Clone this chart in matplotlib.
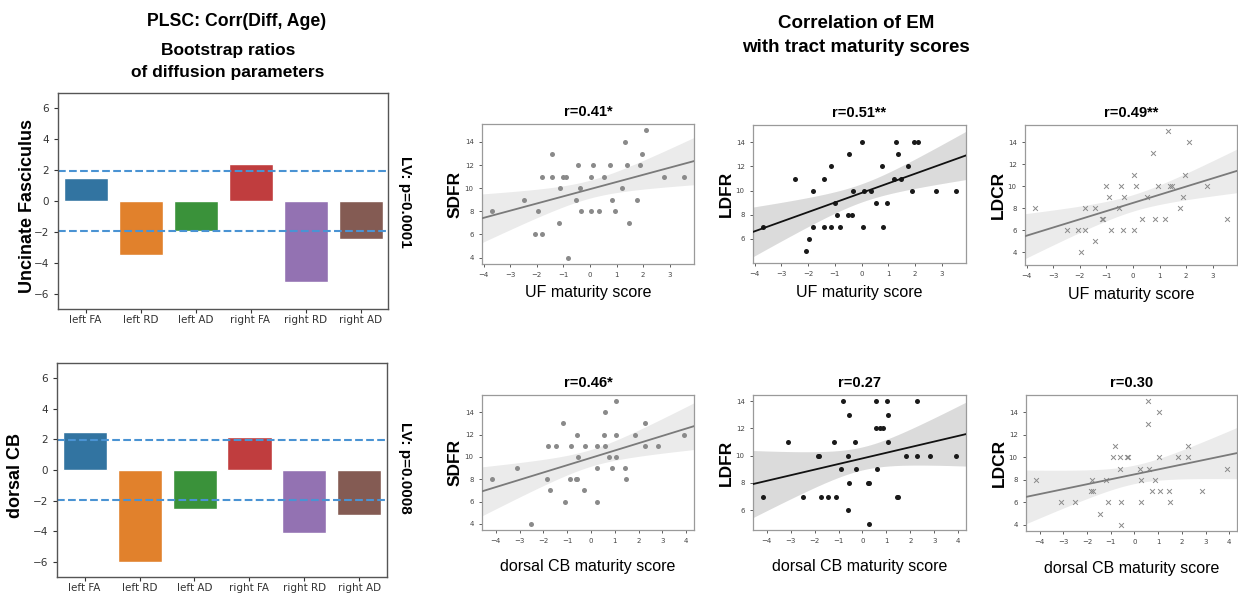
import numpy as np
import matplotlib
matplotlib.use('Agg')
import matplotlib.pyplot as plt
from matplotlib.ticker import MultipleLocator

# ---------------- data ----------------
bar_labels = ['left FA', 'left RD', 'left AD', 'right FA', 'right RD', 'right AD']
uf_bsr = [1.5, -3.47, -1.97, 2.4, -5.24, -2.45]
cb_bsr = [2.46, -6.02, -2.54, 2.17, -4.15, -2.93]

x_uf = [-3.7, -2.5, -2.07, -1.96, -1.81, -1.81, -1.42, -1.42, -1.13, -1.15, -1.0, -0.9,
        -0.81, -0.51, -0.46, -0.36, -0.33, 0.03, 0.05, 0.1, 0.35, 0.53, 0.76, 0.82, 0.95,
        1.22, 1.3, 1.38, 1.48, 1.75, 1.89, 1.97, 2.1, 2.8, 3.55]
sdfr_uf = [8, 9, 6, 8, 6, 11, 13, 11, 10, 7, 11, 11, 4, 9, 12, 10, 8, 11, 8, 12, 8, 11,
           12, 9, 8, 10, 14, 12, 7, 9, 12, 13, 15, 11, 11]
ldfr_uf = [7, 11, 5, 6, 10, 7, 11, 7, 12, 7, 9, 8, 7, 8, 13, 8, 10, 14, 7, 10, 10, 9,
           12, 7, 9, 11, 14, 13, 11, 12, 10, 14, 14, 10, 10]
ldcr_uf = [8, 6, 6, 4, 8, 6, 8, 5, 7, 7, 10, 9, 6, 8, 10, 6, 9, 11, 6, 10, 7, 9,
           13, 7, 10, 7, 15, 10, 10, 8, 9, 11, 14, 10, 7]

x_cb = [-4.17, -3.1, -2.5, -1.85, -1.8, -1.74, -1.45, -1.18, -1.1, -0.89, -0.82, -0.62,
        -0.6, -0.57, -0.56, -0.3, -0.27, 0.24, 0.26, 0.27, 0.56, 0.58, 0.6, 0.74, 0.87,
        1.03, 1.05, 1.07, 1.44, 1.49, 1.83, 2.26, 2.27, 2.83, 3.92]
sdfr_cb = [8, 9, 4, 8, 11, 7, 11, 13, 6, 8, 11, 8, 8, 12, 10, 7, 11, 11, 9, 6, 12, 14,
           11, 10, 9, 12, 15, 10, 9, 8, 12, 13, 11, 11, 12]
ldfr_cb = [7, 11, 7, 10, 10, 7, 7, 11, 7, 9, 14, 10, 6, 13, 8, 11, 9, 8, 8, 5, 12, 14,
           9, 12, 12, 14, 13, 11, 7, 7, 10, 14, 10, 10, 10]
ldcr_cb = [8, 6, 6, 7, 8, 7, 5, 8, 6, 10, 11, 10, 9, 6, 4, 10, 10, 9, 8, 6, 15, 13,
           9, 7, 8, 14, 10, 7, 7, 6, 10, 11, 10, 7, 9]

r_titles = [['r=0.41*', 'r=0.51**', 'r=0.49**'], ['r=0.46*', 'r=0.27', 'r=0.30']]

# ---------------- figure ----------------
W, H = 1238, 595
fig = plt.figure(figsize=(W / 100, H / 100), dpi=100)
HF = ['Liberation Sans', 'DejaVu Sans']


def px_axes(l, t, r, b):
    return fig.add_axes([l / W, 1 - b / H, (r - l) / W, (b - t) / H])


def ftext(x, y, s, **kw):
    fig.text(x / W, 1 - y / H, s, ha='center', va='center', family=HF, **kw)


# titles
ftext(237, 22, 'PLSC: Corr(Diff, Age)', fontsize=12.7, fontweight='bold')
ftext(228, 51, 'Bootstrap ratios', fontsize=12.5, fontweight='bold')
ftext(228, 73, 'of diffusion parameters', fontsize=12.5, fontweight='bold')
ftext(856, 23, 'Correlation of EM', fontsize=13.5, fontweight='bold')
ftext(856, 47, 'with tract maturity scores', fontsize=13.5, fontweight='bold')

# ---------------- bar charts ----------------
bar_colors = ['#3274a1', '#e1812c', '#3a923a', '#c03d3e', '#9372b2', '#845b53']
dash_c = '#4a93d3'
bar_specs = [
    ((58, 93, 388, 309), uf_bsr, 'Uncinate Fasciculus', 27, 206, 'LV: p=0.0001', 202),
    ((57, 363, 387, 577), cb_bsr, 'dorsal CB', 16, 476, 'LV: p=0.0008', 468),
]
for box, vals, ylab, ylx, yly, lv, lvy in bar_specs:
    ax = px_axes(*box)
    ax.bar(range(len(vals)), vals, width=0.8, color=bar_colors, edgecolor='white', linewidth=1)
    ax.axhline(1.96, ls='--', color=dash_c, lw=1.5)
    ax.axhline(-1.96, ls='--', color=dash_c, lw=1.5)
    ax.set_xlim(-0.5, 5.5)
    ax.set_ylim(-7, 7)
    ax.set_yticks(range(-6, 7, 2))
    ax.set_xticks(range(len(bar_labels)))
    ax.set_xticklabels(bar_labels)
    ax.tick_params(labelsize=7.5, colors='#333', length=3, width=0.8)
    ax.tick_params(axis='x', pad=1.5)
    for sp in ax.spines.values():
        sp.set_color('#555')
        sp.set_linewidth(1)
    ftext(ylx, yly, ylab, rotation=90, fontsize=13, fontweight='bold')
    ftext(405, lvy, lv, rotation=270, fontsize=11, fontweight='bold')

# ---------------- scatter / regression ----------------
T_CRIT = 2.035  # two-sided 95% t quantile, df = 33


def regplot(ax, x, y, color, marker, lcolor):
    x = np.asarray(x, float)
    y = np.asarray(y, float)
    if marker == 'x':
        ax.scatter(x, y, s=12, c=color, marker='x', linewidths=0.7, zorder=2)
    else:
        ax.scatter(x, y, s=13, c=color, marker='o', linewidths=0, zorder=2)
    ax.margins(0.05)
    ax.autoscale_view()
    xl = ax.get_xlim()
    n = len(x)
    b1, b0 = np.polyfit(x, y, 1)
    resid = y - (b0 + b1 * x)
    s = np.sqrt(np.sum(resid ** 2) / (n - 2))
    sxx = np.sum((x - x.mean()) ** 2)
    xs = np.linspace(xl[0], xl[1], 200)
    yh = b0 + b1 * xs
    se = s * np.sqrt(1 / n + (xs - x.mean()) ** 2 / sxx)
    ax.fill_between(xs, yh - T_CRIT * se, yh + T_CRIT * se, color=lcolor, alpha=0.15, lw=0, zorder=1)
    ax.plot(xs, yh, color=lcolor, lw=1.3, zorder=3)
    ax.autoscale_view()
    ax.set_xlim(xl)


rows = [
    (x_uf, [sdfr_uf, ldfr_uf, ldcr_uf], 'UF maturity score',
     [(482, 124, 694, 264), (753, 125, 966, 263), (1025, 125, 1237, 265)], 29),
    (x_cb, [sdfr_cb, ldfr_cb, ldcr_cb], 'dorsal CB maturity score',
     [(482, 395, 694, 530), (753, 395, 966, 530), (1026, 395, 1237, 531)], 37),
]
ynames = ['SDFR', 'LDFR', 'LDCR']
styles = [('#8a8a8a', 'o', '#7a7a7a'), ('#1a1a1a', 'o', '#111111'), ('#8a8a8a', 'x', '#7a7a7a')]

for ri, (xv, ylist, xlab, boxes, xoff) in enumerate(rows):
    for ci in range(3):
        box = boxes[ci]
        ax = px_axes(*box)
        col, mk, lc = styles[ci]
        regplot(ax, xv, ylist[ci], col, mk, lc)
        ax.xaxis.set_major_locator(MultipleLocator(1))
        ax.yaxis.set_major_locator(MultipleLocator(2))
        ax.tick_params(labelsize=5, colors='#444', length=2.5, width=0.6)
        for sp in ax.spines.values():
            sp.set_color('#9a9a9a')
            sp.set_linewidth(0.9)
        cx = (box[0] + box[2]) / 2
        ftext(cx, box[1] - 12, r_titles[ri][ci], fontsize=10.5, fontweight='bold')
        ftext(cx, box[3] + xoff, xlab, fontsize=11.5)
        ftext(box[0] - 27, (box[1] + box[3]) / 2, ynames[ci], rotation=90,
              fontsize=12.5, fontweight='bold')

fig.savefig('out.png', dpi=100)
